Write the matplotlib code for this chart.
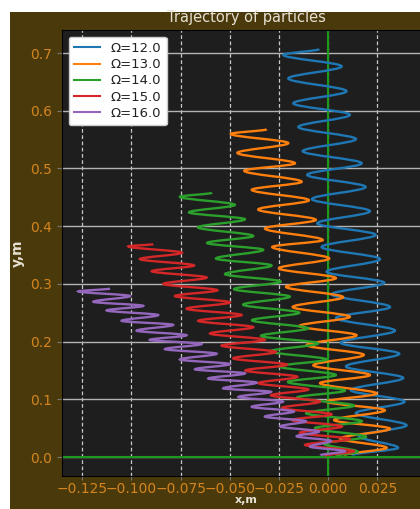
import matplotlib
matplotlib.use("Agg")
import matplotlib.pyplot as plt
from matplotlib.path import Path
from matplotlib.patches import PathPatch, Rectangle
from matplotlib.lines import Line2D

# turning points of each trajectory, from the start near the origin up to the end
omegas = [12.0, 13.0, 14.0, 15.0, 16.0]
colors = ['#1f77b4', '#ff7f0e', '#2ca02c', '#d62728', '#9467bd']

blue_x = [0.012, 0.0355, 0.0155, 0.0398, 0.0140, 0.0388, 0.0114, 0.0381, 0.0090, 0.0361, 0.0063, 0.0339,
          0.0039, 0.0314, 0.0017, 0.0285, -0.0008, 0.0263, -0.0034, 0.0241, -0.0056, 0.0212, -0.0083, 0.0190,
          -0.0107, 0.0170, -0.0130, 0.0141, -0.0152, 0.0110, -0.0178, 0.0093, -0.0203, 0.0068, -0.0229, -0.0046]
blue_y = [0.003, 0.016, 0.036, 0.055, 0.076, 0.096, 0.116, 0.137, 0.157, 0.179, 0.198, 0.219,
          0.241, 0.260, 0.282, 0.302, 0.321, 0.343, 0.364, 0.385, 0.405, 0.426, 0.447, 0.468,
          0.489, 0.509, 0.530, 0.551, 0.572, 0.593, 0.613, 0.634, 0.656, 0.677, 0.697, 0.707]

orange_x = [0.008, 0.0297, 0.0060, 0.0314, 0.0030, 0.0288, -0.0009, 0.0246, -0.0042, 0.0212, -0.0076, 0.0181,
            -0.0110, 0.0144, -0.0147, 0.0110, -0.0181, 0.0076, -0.0215, 0.0039, -0.0251, 0.0005, -0.0285, -0.0028,
            -0.0322, -0.0063, -0.0356, -0.0098, -0.0389, -0.0135, -0.0427, -0.0169, -0.0462, -0.0203, -0.0496, -0.0313]
orange_y = [0.003, 0.016, 0.032, 0.049, 0.064, 0.081, 0.096, 0.110, 0.128, 0.142, 0.159, 0.177,
            0.194, 0.211, 0.227, 0.243, 0.260, 0.277, 0.295, 0.310, 0.327, 0.344, 0.364, 0.376,
            0.396, 0.411, 0.429, 0.445, 0.463, 0.477, 0.496, 0.509, 0.527, 0.544, 0.560, 0.568]

green_x = [0.004, 0.015, -0.0022, 0.0192, -0.0068, 0.0171, -0.0113, 0.0131, -0.0159, 0.0085, -0.0205, 0.0039,
           -0.0250, -0.0008, -0.0296, -0.0051, -0.0342, -0.0102, -0.0388, -0.0147, -0.0433, -0.0195, -0.0479, -0.0242,
           -0.0525, -0.0288, -0.0571, -0.0330, -0.0616, -0.0381, -0.0662, -0.0423, -0.0708, -0.0474, -0.0754, -0.0591]
green_y = [0.002, 0.009, 0.023, 0.035, 0.050, 0.062, 0.076, 0.089, 0.103, 0.115, 0.130, 0.142,
           0.157, 0.169, 0.183, 0.197, 0.210, 0.223, 0.237, 0.250, 0.264, 0.278, 0.291, 0.304,
           0.317, 0.332, 0.344, 0.359, 0.371, 0.383, 0.398, 0.412, 0.424, 0.437, 0.451, 0.458]

red_x = [-0.002, 0.0131, -0.0118, 0.0110, -0.0144, 0.0070, -0.0184, 0.0017, -0.0235, -0.0042, -0.0291, -0.0101,
         -0.0355, -0.0157, -0.0421, -0.0210, -0.0483, -0.0266, -0.0542, -0.0322, -0.0601, -0.0381, -0.0661, -0.0440,
         -0.0720, -0.0499, -0.0779, -0.0563, -0.0838, -0.0618, -0.0897, -0.0682, -0.0957, -0.0743, -0.1016, -0.0889]
red_y = [0.002, 0.010, 0.021, 0.031, 0.042, 0.053, 0.064, 0.074, 0.085, 0.096, 0.107, 0.117,
         0.128, 0.139, 0.150, 0.160, 0.171, 0.182, 0.193, 0.203, 0.214, 0.225, 0.236, 0.246,
         0.257, 0.268, 0.279, 0.289, 0.300, 0.311, 0.322, 0.332, 0.343, 0.354, 0.365, 0.369]

purple_x = [-0.004, 0.0085, -0.0093, 0.0014, -0.0161, -0.0047, -0.0245, -0.0113, -0.0322, -0.0174, -0.0389, -0.0230,
            -0.0457, -0.0291, -0.0534, -0.0364, -0.0610, -0.0423, -0.0677, -0.0499, -0.0754, -0.0567, -0.0830, -0.0643,
            -0.0907, -0.0720, -0.0974, -0.0788, -0.1050, -0.0864, -0.1126, -0.0940, -0.1194, -0.1007, -0.1270, -0.1109]
purple_y = [0.003, 0.010, 0.018, 0.028, 0.036, 0.044, 0.053, 0.062, 0.070, 0.079, 0.087, 0.096,
            0.104, 0.113, 0.119, 0.129, 0.136, 0.145, 0.152, 0.161, 0.169, 0.179, 0.187, 0.196,
            0.203, 0.211, 0.219, 0.229, 0.236, 0.246, 0.254, 0.262, 0.269, 0.279, 0.287, 0.292]

x_ticks = [-0.125, -0.100, -0.075, -0.050, -0.025, 0.000, 0.025]
y_ticks = [0.0, 0.1, 0.2, 0.3, 0.4, 0.5, 0.6, 0.7]

tick_color = '#d4841e'
text_color = '#e6e0d2'


def trace(ax, xs, ys, color):
    # smooth swing between turning points: vertical tangent at every tip
    verts = [(xs[0], ys[0])]
    codes = [Path.MOVETO]
    for i in range(1, len(xs)):
        d = (ys[i] - ys[i - 1]) / 3
        verts += [(xs[i - 1], ys[i - 1] + d), (xs[i], ys[i] - d), (xs[i], ys[i])]
        codes += [Path.CURVE4] * 3
    ax.add_patch(PathPatch(Path(verts, codes), fill=False, edgecolor=color, lw=1.7, zorder=3))


fig = plt.figure(figsize=(4.2, 5.09), dpi=100, facecolor='white')
fig.patches.append(Rectangle((10 / 420, 0), 410 / 420, 497 / 509, transform=fig.transFigure,
                             facecolor='#4a3a0b', edgecolor='none', zorder=-1))

ax = fig.add_axes([62 / 420, 33 / 509, 368 / 420, 446 / 509])
ax.set_facecolor('#1e1e1e')

paths = [(blue_x, blue_y), (orange_x, orange_y), (green_x, green_y), (red_x, red_y), (purple_x, purple_y)]
for (xs, ys), c in zip(paths, colors):
    trace(ax, xs, ys, c)

ax.axhline(0, color='#1d9a1d', lw=1.5, zorder=2)
ax.axvline(0, color='#1d9a1d', lw=1.5, zorder=2)

ax.set_xlim(-0.1353, 0.0517)
ax.set_ylim(-0.0329, 0.740)
ax.set_xticks(x_ticks)
ax.set_yticks(y_ticks)
ax.grid(axis='x', color='#c8c8c8', ls=(0, (3, 2)), lw=0.9, zorder=1)
ax.grid(axis='y', color='#b4b4b4', ls='-', lw=1.0, zorder=1)
ax.set_axisbelow(True)

ax.tick_params(colors='#777777', labelcolor=tick_color, labelsize=10)
ax.tick_params(axis='x', length=3, pad=1.5)
for s in ax.spines.values():
    s.set_color('black')

ax.set_title('Trajectory of particles', color=text_color, fontsize=10.5)
ax.set_xlabel('x,m', color=text_color, fontweight='bold', fontsize=8, labelpad=-1)
ax.set_ylabel('y,m', color=text_color, fontweight='bold', fontsize=10)

handles = [Line2D([], [], color=c, lw=1.5) for c in colors]
labels = ['Ω=' + str(w) for w in omegas]
leg = ax.legend(handles, labels, loc='upper left', fontsize=9.5, labelspacing=0.25,
                facecolor='white', edgecolor='#cccccc', framealpha=1.0)
for t in leg.get_texts():
    t.set_color('#222222')

fig.savefig('out.png', dpi=100, facecolor=fig.get_facecolor())
